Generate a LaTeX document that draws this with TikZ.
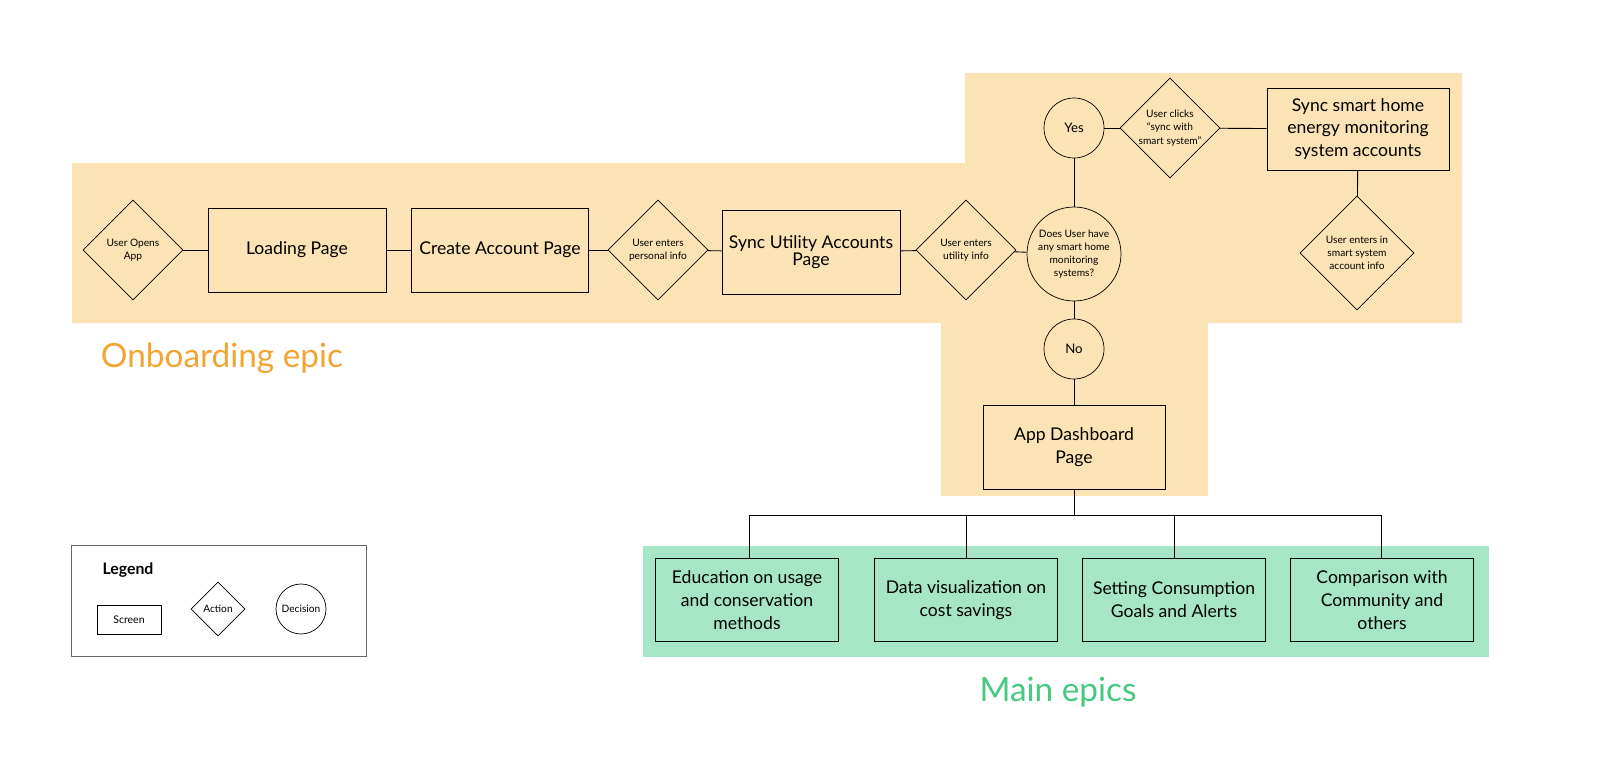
\documentclass[tikz,border=0pt]{standalone}
\usepackage{fontspec}
\setmainfont{Lato}
\usetikzlibrary{shapes.geometric}
\definecolor{onbfill}{HTML}{FCE3B5}
\definecolor{mainfill}{HTML}{A6E5C6}
\definecolor{onbtext}{HTML}{F2A533}
\definecolor{maintext}{HTML}{45C97F}
\tikzset{
  screen/.style={draw=black, rectangle, align=center, font=\fontsize{10}{13}\selectfont},
  action/.style={draw=black, diamond, aspect=1, inner sep=0pt, align=center,
    font=\fontsize{5.8}{7.5}\selectfont},
  decision/.style={draw=black, circle, inner sep=0pt, align=center, font=\fontsize{5.8}{7.5}\selectfont},
  link/.style={draw=black, line width=0.5pt}
}
\begin{document}
\begin{tikzpicture}[x=0.02cm,y=-0.02cm]
  \useasboundingbox (0,0) rectangle (1606,784);

  % Fonds des epics
  \fill[onbfill] (72,163) -- (965,163) -- (965,73) -- (1462,73) -- (1462,323)
    -- (1208,323) -- (1208,496) -- (941,496) -- (941,323) -- (72,323) -- cycle;
  \fill[mainfill] (643,546) rectangle (1489,657);
  \node[text=onbtext, font=\fontsize{19}{24}\selectfont] (onbtitle) at (222,358) {Onboarding epic};
  \node[text=maintext, font=\fontsize{19}{24}\selectfont] (maintitle) at (1058,692) {Main epics};

  % Onboarding
  \node[action, minimum size=2cm] (opens) at (133,250) {User Opens\\App};
  \node[screen, minimum width=3.56cm, minimum height=1.68cm] (loading) at (297,250) {Loading Page};
  \node[screen, minimum width=3.54cm, minimum height=1.68cm] (create) at (500,250) {Create Account Page};
  \node[action, minimum size=2cm] (personal) at (658,250) {User enters\\personal info};
  \node[screen, minimum width=3.56cm, minimum height=1.68cm] (syncutil) at (811,252) {Sync Utility Accounts\\[-3pt]Page};
  \node[action, minimum size=2cm] (utility) at (966,250) {User enters\\utility info};
  \node[decision, minimum size=1.88cm] (smart) at (1074,254) {Does User have\\any smart home\\monitoring\\systems?};
  \node[decision, minimum size=1.2cm, font=\fontsize{7.5}{9}\selectfont] (yes) at (1074,128) {Yes};
  \node[action, minimum size=2cm] (clicks) at (1170,128) {User clicks\\``sync with\\smart system''};
  \node[screen, minimum width=3.64cm, minimum height=1.64cm] (syncsmart) at (1358,129) {Sync smart home\\energy monitoring\\system accounts};
  \node[action, minimum size=2.28cm] (smartinfo) at (1357,253) {User enters in\\smart system\\account info};
  \node[decision, minimum size=1.2cm, font=\fontsize{7.5}{9}\selectfont] (no) at (1074,349) {No};
  \node[screen, minimum width=3.64cm, minimum height=1.68cm] (dash) at (1074,447) {App Dashboard\\Page};

  \draw[link] (opens) -- (loading);
  \draw[link] (loading) -- (create);
  \draw[link] (create) -- (personal);
  \draw[link] (personal) -- (syncutil);
  \draw[link] (syncutil) -- (utility);
  \draw[link] (utility) -- (smart);
  \draw[link] (smart) -- (yes);
  \draw[link] (yes) -- (clicks);
  \draw[link] (clicks) -- (syncsmart);
  \draw[link] (syncsmart) -- (smartinfo);
  \draw[link] (smart) -- (no);
  \draw[link] (no) -- (dash);

  % Main epics
  \tikzset{epic/.style={screen, fill=mainfill, minimum width=3.66cm, minimum height=1.66cm}}
  \node[epic] (educ) at (747,600) {Education on usage\\and conservation\\methods};
  \node[epic] (dataviz) at (966,600) {Data visualization on\\cost savings};
  \node[epic] (goals) at (1174,600) {Setting Consumption\\Goals and Alerts};
  \node[epic] (compare) at (1382,600) {Comparison with\\Community and\\others};
  \coordinate (bus) at (1074,515);
  \coordinate (busleft) at (749,515);
  \coordinate (busright) at (1381,515);
  \draw[link] (dash) -- (bus);
  \draw[link] (educ.north -| busleft) -- (busleft) -- (busright) -- (compare.north -| busright);
  \draw[link] (dataviz.north) -- (dataviz.north |- bus);
  \draw[link] (goals.north) -- (goals.north |- bus);

  % Legende
  \draw[black!60] (71,545) rectangle (366,656);
  \node[font=\bfseries\fontsize{9}{11}\selectfont] (legend) at (128,570) {Legend};
  \node[draw=black, minimum width=1.28cm, minimum height=0.58cm, font=\fontsize{6}{7}\selectfont] (lscreen) at (129,620) {Screen};
  \node[action, minimum size=1.08cm] (laction) at (218,609) {Action};
  \node[decision, minimum size=1cm] (ldecision) at (301,609) {Decision};
\end{tikzpicture}
\end{document}
